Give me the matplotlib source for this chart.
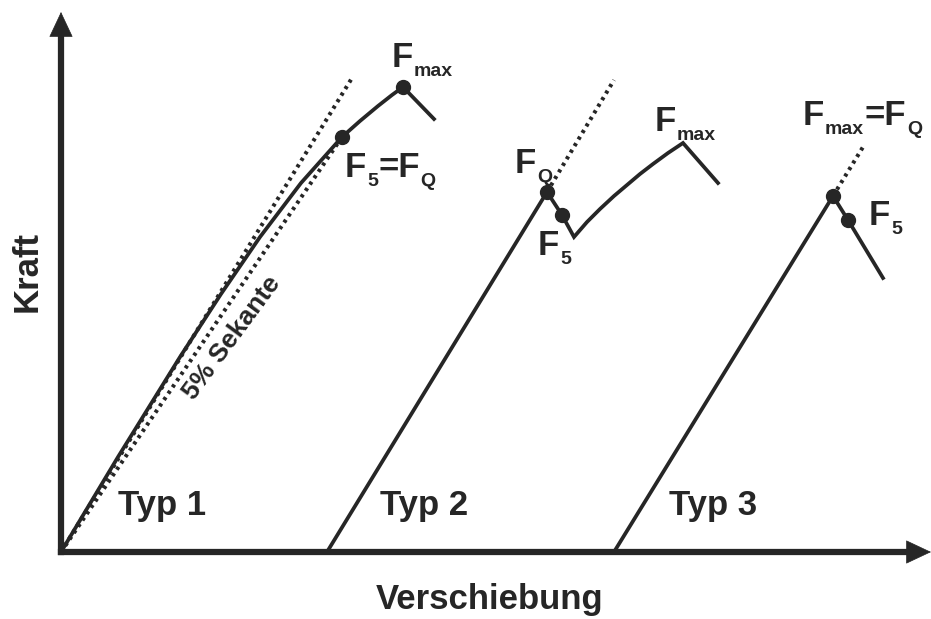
#Kraft-Verschiebungs-Kurven Typ 1 bis 3 (schematisch)
#Ursprung des Diagramms bei (0, 0), Einheiten beliebig

import matplotlib.pyplot as plt

plt.rcParams['font.family'] = ['Liberation Sans', 'DejaVu Sans']
plt.rcParams['font.weight'] = 'bold'

ink = '#262626'

#Typ 1: gekruemmte Kurve bis F5=FQ, dann bis Fmax und Abfall
typ1_x = [0, 57, 119, 160, 199, 240, 281, 299, 317, 331, 342, 373]
typ1_y = [0, 95, 195, 258, 315, 369, 415, 431, 446, 457, 465, 433]
typ1_pts_x = [281, 342]   # F5=FQ, Fmax
typ1_pts_y = [415, 465]
tangent_x = [0, 291]      # Anfangsgerade
tangent_y = [0, 474]
secant_x = [0, 281]       # 5% Sekante
secant_y = [0, 415]

#Typ 2: Pop-in bei FQ, danach Anstieg bis Fmax
typ2_x = [266, 486, 501, 513, 526, 539, 553, 566, 579, 592, 607, 622, 657]
typ2_y = [0, 360, 337, 315, 330, 343, 356, 367, 378, 388, 399, 409, 369]
typ2_pts_x = [486, 501]   # FQ, F5
typ2_pts_y = [360, 337]
typ2_ext_x = [486, 553]
typ2_ext_y = [360, 472]

#Typ 3: Fmax=FQ, danach Abfall
typ3_x = [553, 772, 787, 822]
typ3_y = [0, 356, 332, 274]
typ3_pts_x = [772, 787]   # Fmax=FQ, F5
typ3_pts_y = [356, 332]
typ3_ext_x = [772, 802]
typ3_ext_y = [356, 405]

#Achsen
x_end = 870
y_end = 540

fig = plt.figure(figsize=(9.31, 6.19), dpi=100)
ax = fig.add_axes([0, 0, 1, 1])
ax.set_xlim(-61, 870)
ax.set_ylim(-67, 552)
ax.axis('off')

#Achsen mit Pfeilen
ax.plot([0, x_end - 18], [0, 0], color=ink, lw=4.5, solid_capstyle='projecting')
ax.plot([0, 0], [0, y_end - 18], color=ink, lw=4.5, solid_capstyle='projecting')
arrow = dict(arrowstyle='-|>,head_length=1.7,head_width=0.8', mutation_scale=10,
             lw=0.5, color=ink, shrinkA=0, shrinkB=0)
ax.annotate('', xy=(x_end, 0), xytext=(x_end - 20, 0), arrowprops=arrow)
ax.annotate('', xy=(0, y_end), xytext=(0, y_end - 20), arrowprops=arrow)

dotted = (0, (0.8, 1.1))
for xs, ys in [(tangent_x, tangent_y), (secant_x, secant_y),
               (typ2_ext_x, typ2_ext_y), (typ3_ext_x, typ3_ext_y)]:
    ax.plot(xs, ys, color=ink, lw=2.9, linestyle=dotted, dash_capstyle='butt')

for xs, ys in [(typ1_x, typ1_y), (typ2_x, typ2_y), (typ3_x, typ3_y)]:
    ax.plot(xs, ys, color=ink, lw=2.7, solid_joinstyle='miter')
for xs, ys in [(typ1_pts_x, typ1_pts_y), (typ2_pts_x, typ2_pts_y), (typ3_pts_x, typ3_pts_y)]:
    ax.plot(xs, ys, 'o', color=ink, ms=10)


def flabel(x, y, parts):
    #parts: (text, size, vertical shift in points)
    prev = None
    for s, size, dy in parts:
        if prev is None:
            prev = ax.text(x, y, s, fontsize=size, color=ink, ha='left', va='baseline')
        else:
            prev = ax.annotate(s, xy=(1, 0), xycoords=prev, xytext=(0.5, dy),
                               textcoords='offset points', fontsize=size, color=ink,
                               ha='left', va='bottom')


big, small = 25, 14
flabel(331, 485, [('F', big, 0), ('max', small, -4)])
flabel(284, 375, [('F', big, 0), ('5', small, -4), ('=F', big, 4), ('Q', small, -4)])
flabel(454, 379, [('F', big, 0), ('Q', small, -4)])
flabel(477, 297, [('F', big, 0), ('5', small, -4)])
flabel(594, 421, [('F', big, 0), ('max', small, -4)])
flabel(742, 427, [('F', big, 0), ('max', small, -4), ('=F', big, 4), ('Q', small, -4)])
flabel(808, 327, [('F', big, 0), ('5', small, -4)])

ax.text(57, 37, 'Typ 1', fontsize=big, color=ink, ha='left', va='baseline')
ax.text(319, 37, 'Typ 2', fontsize=big, color=ink, ha='left', va='baseline')
ax.text(608, 37, 'Typ 3', fontsize=big, color=ink, ha='left', va='baseline')

ax.text(171, 214, '5% Sekante', fontsize=19, color=ink, rotation=53.5,
        ha='center', va='center')

ax.text(429, -57, 'Verschiebung', fontsize=big, color=ink, ha='center', va='baseline')
ax.text(-34, 281, 'Kraft', fontsize=big, color=ink, rotation=90, ha='center', va='center')

fig.savefig('out.png', dpi=100)
